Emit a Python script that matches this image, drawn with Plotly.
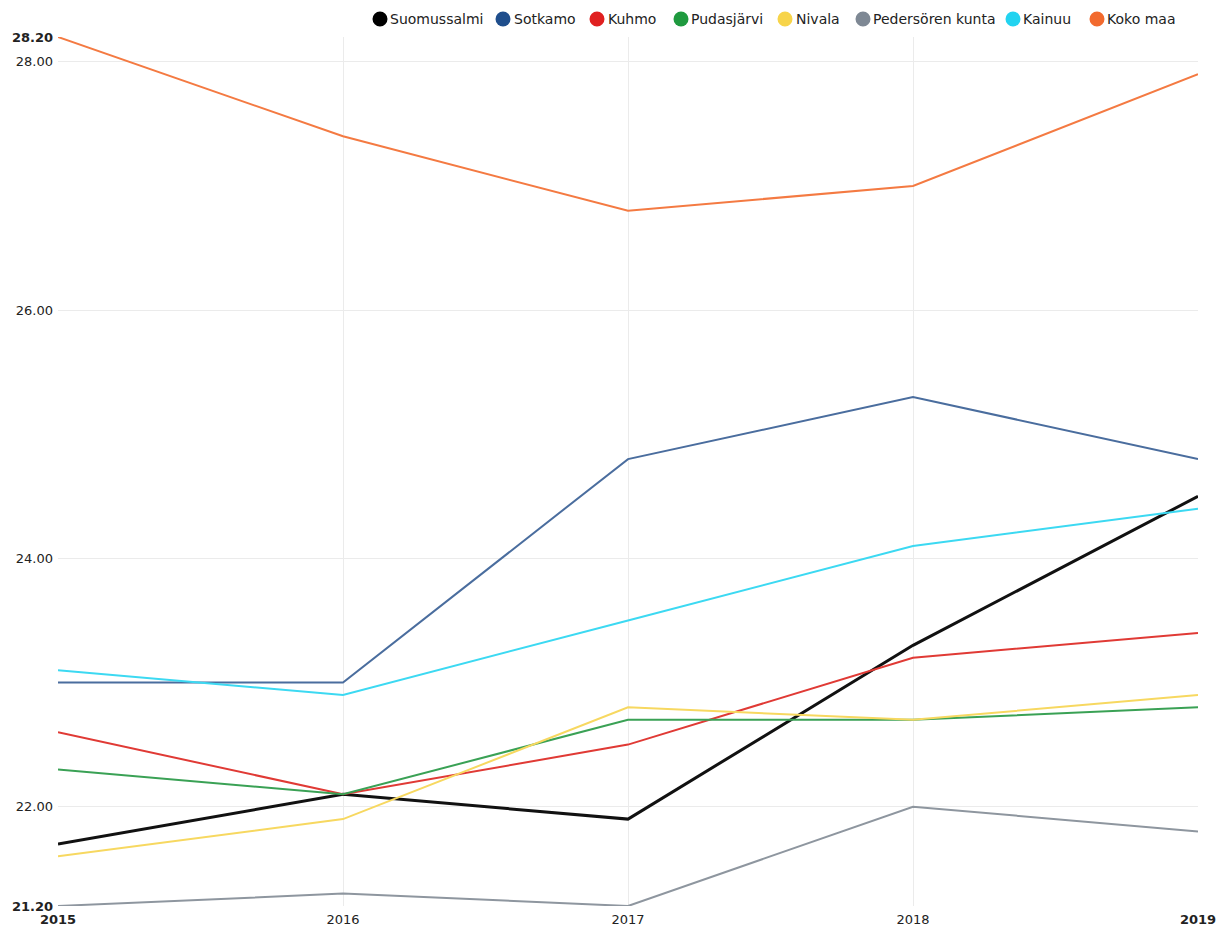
import plotly.graph_objects as go

years = [2015, 2016, 2017, 2018, 2019]
series_names = ["Suomussalmi", "Sotkamo", "Kuhmo", "Pudasjärvi", "Nivala",
                "Pedersören kunta", "Kainuu", "Koko maa"]
suomussalmi = [21.7, 22.1, 21.9, 23.3, 24.5]
sotkamo = [23.0, 23.0, 24.8, 25.3, 24.8]
kuhmo = [22.6, 22.1, 22.5, 23.2, 23.4]
pudasjarvi = [22.3, 22.1, 22.7, 22.7, 22.8]
nivala = [21.6, 21.9, 22.8, 22.7, 22.9]
pedersoren = [21.2, 21.3, 21.2, 22.0, 21.8]
kainuu = [23.1, 22.9, 23.5, 24.1, 24.4]
koko_maa = [28.2, 27.4, 26.8, 27.0, 27.9]
values = [suomussalmi, sotkamo, kuhmo, pudasjarvi, nivala, pedersoren, kainuu, koko_maa]

y_ticks = [21.2, 22, 24, 26, 28, 28.2]
y_ticktext = ["<b>21.20</b>", "22.00", "24.00", "26.00", "28.00", "<b>28.20</b>"]
x_ticktext = ["<b>2015</b>", "2016", "2017", "2018", "<b>2019</b>"]

# styling
legend_colors = ["#000000", "#1f4e8c", "#e02020", "#1f9a3f", "#f7d44a",
                 "#7e8894", "#22d3f0", "#f26a2e"]
line_colors = ["#111111", "#4a6d9e", "#e03a35", "#3aa155", "#f7d860",
               "#8e969f", "#3cd9f2", "#f47a42"]
widths = [3, 2, 2, 2, 2, 2, 2, 2]

# page geometry (the page adds an 8px body margin)
OFF = 8
PL, PR, PT, PB = 58, 1198, 37, 906  # plot area in screen pixels
W, H = 1227, 929
PW, PH = PR - PL, PB - PT

# legend layout (screen px): marker centres, text starts, row centre
leg_marker_x = [380, 503, 597, 681, 785, 863, 1013, 1097]
leg_text_x = [389, 513, 607, 690, 795, 872, 1022, 1106]
leg_y = 19
leg_r = 7.5


def px_x(p):
    return (p - PL) / PW


def px_y(p):
    return (PB - p) / PH


fig = go.Figure()
for name, vals, lc, w in zip(series_names, values, line_colors, widths):
    fig.add_trace(go.Scatter(x=years, y=vals, mode="lines", name=name,
                             line=dict(color=lc, width=w), showlegend=False))

shapes = []
annotations = []
for name, c, mx, tx in zip(series_names, legend_colors, leg_marker_x, leg_text_x):
    shapes.append(dict(type="circle", xref="paper", yref="paper",
                       x0=px_x(mx - leg_r), x1=px_x(mx + leg_r),
                       y0=px_y(leg_y + leg_r), y1=px_y(leg_y - leg_r),
                       fillcolor=c, line=dict(width=0), layer="above"))
    annotations.append(dict(text=name, xref="paper", yref="paper",
                            x=px_x(tx), y=px_y(leg_y), xanchor="left",
                            yanchor="middle", showarrow=False, borderpad=0,
                            font=dict(size=14, color="#222222")))

fig.update_layout(
    width=W, height=H,
    margin=dict(l=PL - OFF, r=W - (PR - OFF), t=PT - OFF, b=H - (PB - OFF),
                autoexpand=False),
    plot_bgcolor="white", paper_bgcolor="white",
    font=dict(family="DejaVu Sans", size=13, color="#222222"),
    showlegend=False,
    shapes=shapes, annotations=annotations,
    xaxis=dict(range=[2015, 2019], tickvals=years, ticktext=x_ticktext,
               showgrid=True, gridcolor="#ebebeb", zeroline=False,
               showline=False, ticks="", ticklabelstandoff=4,
               tickfont=dict(size=13, color="#222")),
    yaxis=dict(range=[21.2, 28.2], tickvals=y_ticks, ticktext=y_ticktext,
               showgrid=True, gridcolor="#ebebeb", zeroline=False,
               showline=False, ticks="", ticklabelstandoff=4,
               tickfont=dict(size=13, color="#222")),
)
fig.write_html("out.html")
